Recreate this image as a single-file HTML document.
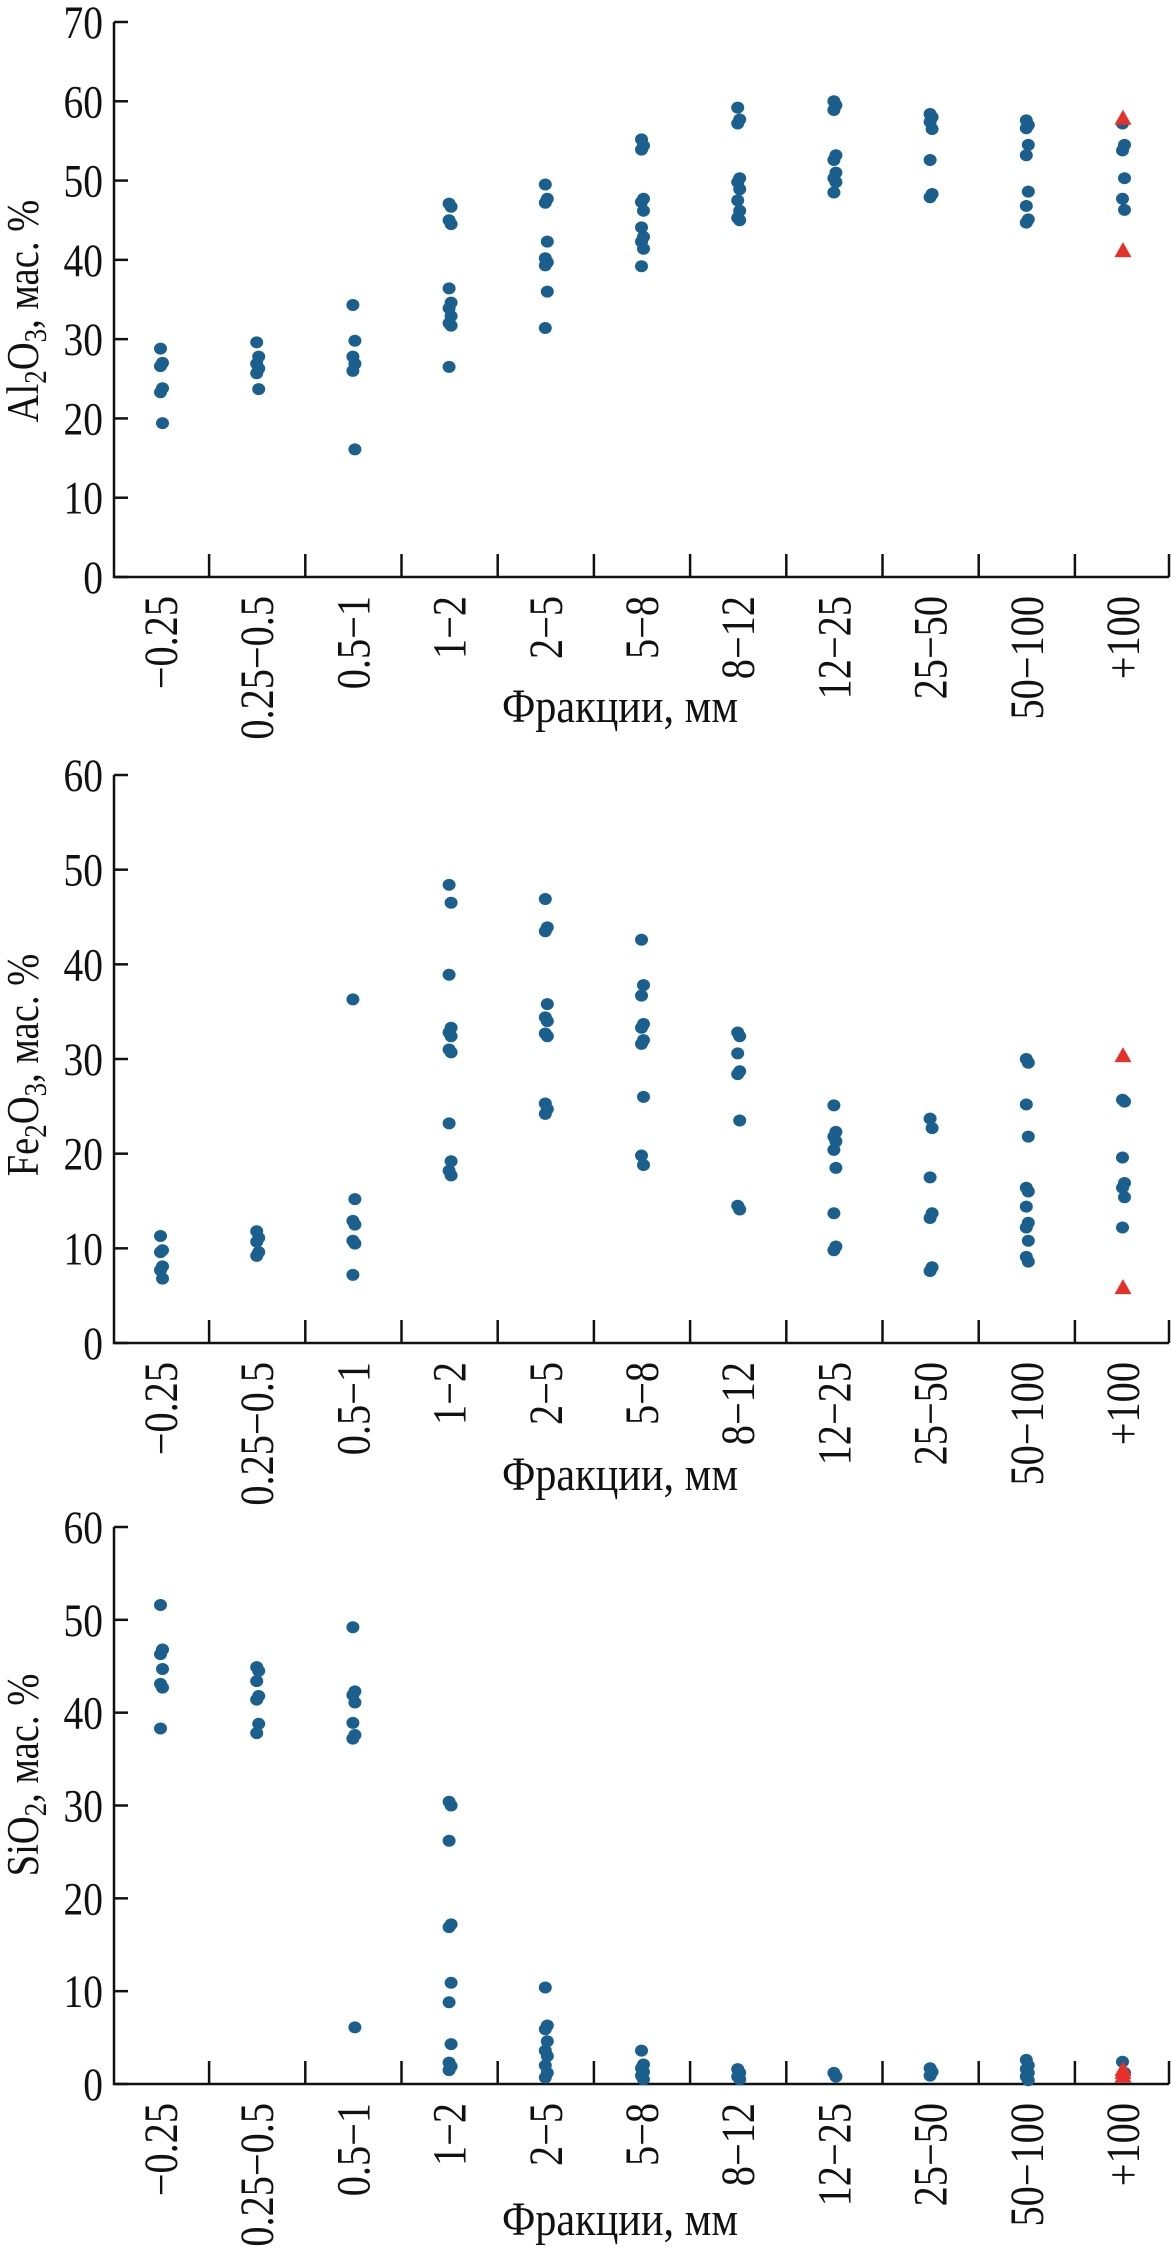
<!DOCTYPE html>
<html><head><meta charset="utf-8"><style>
html,body{margin:0;padding:0;background:#fff;}
svg{display:block;font-family:"Liberation Serif",serif;}
</style></head><body>
<svg id="fig" width="1171" height="2249" viewBox="0 0 1171 2249" xmlns="http://www.w3.org/2000/svg"></svg>
<script>
const categories = ["\u22120.25","0.25\u22120.5","0.5\u22121","1\u22122","2\u22125","5\u22128","8\u221212","12\u221225","25\u221250","50\u2212100","+100"];
const al2o3Values = [
 [28.8,27,26.6,23.8,23.3,19.4],
 [29.6,27.8,26.9,26.3,25.7,23.7],
 [34.3,29.8,27.8,26.9,26.0,16.1],
 [47.1,46.7,45.0,44.5,36.4,34.6,33.9,32.9,32.0,31.7,26.5],
 [49.5,47.7,47.2,42.3,40.2,39.7,39.3,36.0,31.4],
 [55.2,54.4,53.9,47.7,47.3,46.2,44.1,42.9,42.3,41.4,39.2],
 [59.2,57.7,57.2,50.3,49.8,48.9,47.5,46.2,45.3,45.0],
 [60.0,59.5,58.9,53.2,52.6,51.0,50.3,49.8,48.5],
 [58.4,58.0,57.4,56.5,52.6,48.3,47.9],
 [57.6,57.0,56.6,54.5,53.2,48.6,46.8,45.1,44.7],
 [57.2,54.5,53.8,50.3,47.7,46.3]
];
const al2o3Red = [57.8,41.1];
const fe2o3Values = [
 [11.3,9.8,9.6,8.1,7.7,6.8],
 [11.8,11.1,10.7,9.6,9.2],
 [36.3,15.2,12.9,12.5,10.8,10.5,7.2],
 [48.4,46.5,38.9,33.3,32.8,32.4,31.0,30.7,23.2,19.2,18.2,17.7],
 [46.9,43.9,43.5,35.8,34.4,34.0,32.7,32.4,25.3,24.7,24.2],
 [42.6,37.8,36.7,33.7,33.3,32.0,31.6,26.0,19.8,18.8],
 [32.8,32.4,30.6,28.7,28.4,23.5,14.5,14.1],
 [25.1,22.3,21.8,21.3,20.4,18.5,13.7,10.2,9.8],
 [23.7,22.7,17.5,13.7,13.2,8.0,7.6],
 [30.0,29.6,25.2,21.8,16.4,16.0,14.4,12.7,12.2,10.8,9.1,8.6],
 [25.7,25.5,19.6,16.9,16.4,15.4,12.2]
];
const fe2o3Red = [30.3,5.8];
const sio2Values = [
 [51.6,46.8,46.3,44.7,43.1,42.7,38.3],
 [44.9,44.5,43.4,41.8,41.4,38.8,37.8],
 [49.2,42.3,41.9,41.1,38.9,37.6,37.2,6.1],
 [30.4,30.0,26.2,17.2,16.9,10.9,8.8,4.3,2.3,1.9,1.5],
 [10.4,6.3,5.9,4.6,3.6,3.0,2.0,1.2,0.7],
 [3.6,2.1,1.7,1.3,0.9,0.5],
 [1.6,1.2,0.8,0.5],
 [1.2,0.8],
 [1.7,1.3,0.9],
 [2.6,2.0,1.6,1.2,0.8,0.4],
 [2.4,1.2]
];
const sio2Red = [1.5,1.2,0.8];
const al2o3Ticks = [0,10,20,30,40,50,60,70];
const feSiTicks = [0,10,20,30,40,50,60];

const NS="http://www.w3.org/2000/svg";
const svg=document.getElementById('fig');
function mk(tag,attrs,parent){const e=document.createElementNS(NS,tag);for(const k in attrs)e.setAttribute(k,attrs[k]);(parent||svg).appendChild(e);return e;}

function panel(name,yTop,yZero,ticks,values,red,redX,parts,titleCy,xTitleY){
  const g=mk('g',{});
  
  
  const vmax=ticks[ticks.length-1];
  const yS=v=>yZero-(v/vmax)*(yZero-yTop);
  const x0=114,x1=1169,c0=161,step=96.2;
  const xS=i=>c0+i*step;
  const ax=mk('path',{d:`M${x0} ${yTop}V${yZero}H${x1}`,fill:'none',stroke:'#111','stroke-width':2.5},g);
  
  
  ticks.forEach(t=>{
    const y=yS(t);
    mk('line',{x1:x0,x2:x0+14,y1:y,y2:y,stroke:'#111','stroke-width':2.5},g);
    const tx=mk('text',{x:0,y:0,'font-size':47,'text-anchor':'end',fill:'#111',transform:`translate(103 ${y+16}) scale(0.84 1)`},g);
    tx.textContent=t;
    
    
  });
  for(let i=0;i<categories.length;i++){
    const tx=(i<categories.length-1)?(xS(i)+xS(i+1))/2:x1;
    mk('line',{x1:tx,x2:tx,y1:yZero,y2:yZero-23,stroke:'#111','stroke-width':2.5},g);
    const bx=xS(i)+16, by=yZero+19;
    const lab=mk('text',{x:0,y:0,'font-size':48,'text-anchor':'end',fill:'#111',transform:`translate(${bx} ${by}) rotate(-90) scale(0.84 1)`},g);
    lab.textContent=categories[i];
    
    
  }
  values.forEach((arr,i)=>{
    arr.forEach((v,j)=>{
      const c=mk('ellipse',{cx:xS(i)+((j%2)?1.5:-0.5),cy:yS(v),rx:6.5,ry:6,fill:'#1b5f8e'},g);
      
      
    });
  });
  red.forEach(v=>{
    const cx=xS(redX),cy=yS(v);
    const p=mk('path',{d:`M${cx} ${cy-9}L${cx+8.5} ${cy+6}L${cx-8.5} ${cy+6}Z`,fill:'#e8302a'},g);
    
    
  });
  const yt=mk('text',{x:0,y:0,'font-size':46,'text-anchor':'middle',fill:'#111',transform:`translate(38 ${titleCy}) rotate(-90) scale(0.84 1)`},g);
  
  
  let t1=mk('tspan',{},yt);t1.textContent=parts[0];
  let s1=mk('tspan',{'font-size':32,dy:8},yt);s1.textContent=parts[1];
  let t2=mk('tspan',{dy:-8},yt);t2.textContent=parts[2];
  if(parts.length>3){let s2=mk('tspan',{'font-size':32,dy:8},yt);s2.textContent=parts[3];let t3=mk('tspan',{dy:-8},yt);t3.textContent=parts[4];}
  const xt=mk('text',{x:0,y:0,'font-size':48,'text-anchor':'middle',fill:'#111',transform:`translate(620 ${xTitleY}) scale(0.88 1)`},g);
  xt.textContent='Фракции, мм';
  
  
}
panel('al2o3',22,577,al2o3Ticks,al2o3Values,al2o3Red,10,['Al','2','O','3',', мас. %'],311,722);
panel('fe2o3',775,1343,feSiTicks,fe2o3Values,fe2o3Red,10,['Fe','2','O','3',', мас. %'],1065,1490);
panel('sio2',1527,2084,feSiTicks,sio2Values,sio2Red,10,['SiO','2',', мас. %'],1775,2235);
</script>
</body></html>
